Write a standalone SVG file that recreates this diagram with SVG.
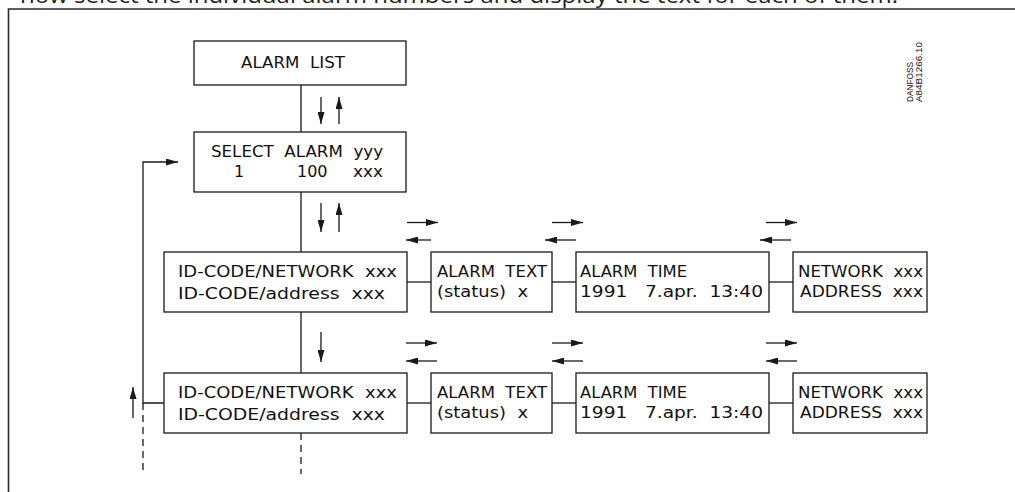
<svg xmlns="http://www.w3.org/2000/svg" width="1015" height="492" viewBox="0 0 1015 492">
<style>
.box{fill:#fff;stroke:#1a1a1a;stroke-width:1.3}
.ln{fill:none;stroke:#1a1a1a;stroke-width:1.3}
.dash{fill:none;stroke:#1a1a1a;stroke-width:1.3;stroke-dasharray:7,5}
.ar{fill:none;stroke:#1a1a1a;stroke-width:1.3;marker-end:url(#ah)}
.t{font-family:"DejaVu Sans","Liberation Sans",sans-serif;font-size:16px;fill:#111;white-space:pre}
.frame{fill:none;stroke:#2a2a2a;stroke-width:1.6}
</style>
<defs>
<marker id="ah" markerUnits="userSpaceOnUse" markerWidth="12" markerHeight="7" refX="12" refY="3.5" orient="auto">
<path d="M0,0 L12,3.5 L0,7 z" fill="#1a1a1a"/>
</marker>
</defs>
<rect width="1015" height="492" fill="#fff"/>
<text x="20" y="3" font-family="'Open Sans',sans-serif" font-size="22" fill="#231f20" textLength="878" lengthAdjust="spacingAndGlyphs">now select the individual alarm numbers and display the text for each of them.</text>
<path class="frame" d="M8.5,492 V9 H1015"/>
<g id="connectors">
<line class="ln" x1="301" y1="85" x2="301" y2="132"/>
<line class="ln" x1="301" y1="192" x2="301" y2="252"/>
<line class="ln" x1="301" y1="312" x2="301" y2="373"/>
<line class="dash" x1="301" y1="433" x2="301" y2="474"/>
<line class="ln" x1="407" y1="282" x2="431" y2="282"/>
<line class="ln" x1="552" y1="282" x2="576" y2="282"/>
<line class="ln" x1="769" y1="282" x2="793" y2="282"/>
<line class="ln" x1="407" y1="403" x2="431" y2="403"/>
<line class="ln" x1="552" y1="403" x2="576" y2="403"/>
<line class="ln" x1="769" y1="403" x2="793" y2="403"/>
<path class="ln" d="M164,403 H143 V162 H178" marker-end="url(#ah)"/>
<line class="dash" x1="143" y1="403" x2="143" y2="474"/>
<line class="ar" x1="321" y1="97" x2="321" y2="124"/>
<line class="ar" x1="339" y1="124" x2="339" y2="97"/>
<line class="ar" x1="321" y1="203" x2="321" y2="232"/>
<line class="ar" x1="339" y1="232" x2="339" y2="203"/>
<line class="ar" x1="321" y1="332" x2="321" y2="362"/>
<line class="ar" x1="133" y1="418" x2="133" y2="387"/>
<line class="ar" x1="407" y1="222.5" x2="438" y2="222.5"/>
<line class="ar" x1="431" y1="240" x2="406" y2="240"/>
<line class="ar" x1="552" y1="222.5" x2="583" y2="222.5"/>
<line class="ar" x1="576" y1="240" x2="545" y2="240"/>
<line class="ar" x1="766" y1="222.5" x2="797" y2="222.5"/>
<line class="ar" x1="791" y1="240" x2="760" y2="240"/>
<line class="ar" x1="406" y1="343" x2="437" y2="343"/>
<line class="ar" x1="437" y1="361" x2="406" y2="361"/>
<line class="ar" x1="552" y1="343" x2="583" y2="343"/>
<line class="ar" x1="583" y1="361" x2="552" y2="361"/>
<line class="ar" x1="766" y1="343" x2="797" y2="343"/>
<line class="ar" x1="797" y1="361" x2="766" y2="361"/>
</g>
<g id="alarm-list">
<rect class="box" x="194" y="41" width="212" height="44"/>
<text class="t" x="241" y="68" textLength="104" lengthAdjust="spacingAndGlyphs">ALARM  LIST</text>
</g>
<g id="select-alarm">
<rect class="box" x="194" y="132" width="212" height="60"/>
<text class="t" x="211" y="157" textLength="172" lengthAdjust="spacingAndGlyphs">SELECT  ALARM  yyy</text>
<text class="t" x="234" y="177">1</text>
<text class="t" x="297" y="177">100</text>
<text class="t" x="353" y="177" textLength="30" lengthAdjust="spacingAndGlyphs">xxx</text>
</g>
<g id="idcode-1">
<rect class="box" x="164" y="252" width="243" height="60"/>
<text class="t" x="178" y="277" textLength="219" lengthAdjust="spacingAndGlyphs">ID-CODE/NETWORK  xxx</text>
<text class="t" x="178" y="299" textLength="207" lengthAdjust="spacingAndGlyphs">ID-CODE/address  xxx</text>
</g>
<g id="alarmtext-1">
<rect class="box" x="431" y="252" width="121" height="60"/>
<text class="t" x="437" y="277" textLength="110" lengthAdjust="spacingAndGlyphs">ALARM  TEXT</text>
<text class="t" x="437" y="297" textLength="91" lengthAdjust="spacingAndGlyphs">(status)  x</text>
</g>
<g id="alarmtime-1">
<rect class="box" x="576" y="252" width="193" height="60"/>
<text class="t" x="580" y="277" textLength="107" lengthAdjust="spacingAndGlyphs">ALARM  TIME</text>
<text class="t" x="580" y="297" textLength="183" lengthAdjust="spacingAndGlyphs">1991   7.apr.  13:40</text>
</g>
<g id="network-1">
<rect class="box" x="793" y="252" width="134" height="60"/>
<text class="t" x="798" y="277" textLength="125" lengthAdjust="spacingAndGlyphs">NETWORK  xxx</text>
<text class="t" x="800" y="297" textLength="123" lengthAdjust="spacingAndGlyphs">ADDRESS  xxx</text>
</g>
<g id="idcode-2">
<rect class="box" x="164" y="373" width="243" height="60"/>
<text class="t" x="178" y="398" textLength="219" lengthAdjust="spacingAndGlyphs">ID-CODE/NETWORK  xxx</text>
<text class="t" x="178" y="420" textLength="207" lengthAdjust="spacingAndGlyphs">ID-CODE/address  xxx</text>
</g>
<g id="alarmtext-2">
<rect class="box" x="431" y="373" width="121" height="60"/>
<text class="t" x="437" y="398" textLength="110" lengthAdjust="spacingAndGlyphs">ALARM  TEXT</text>
<text class="t" x="437" y="418" textLength="91" lengthAdjust="spacingAndGlyphs">(status)  x</text>
</g>
<g id="alarmtime-2">
<rect class="box" x="576" y="373" width="193" height="60"/>
<text class="t" x="580" y="398" textLength="107" lengthAdjust="spacingAndGlyphs">ALARM  TIME</text>
<text class="t" x="580" y="418" textLength="183" lengthAdjust="spacingAndGlyphs">1991   7.apr.  13:40</text>
</g>
<g id="network-2">
<rect class="box" x="793" y="373" width="134" height="60"/>
<text class="t" x="798" y="398" textLength="125" lengthAdjust="spacingAndGlyphs">NETWORK  xxx</text>
<text class="t" x="800" y="418" textLength="123" lengthAdjust="spacingAndGlyphs">ADDRESS  xxx</text>
</g>
<g id="drawing-number" font-family="'Liberation Sans',Arial,sans-serif" font-size="9" fill="#111">
<text transform="translate(913,102) rotate(-90)" textLength="40" lengthAdjust="spacingAndGlyphs">DANFOSS</text>
<text transform="translate(921.5,102) rotate(-90)" textLength="60" lengthAdjust="spacingAndGlyphs">A84B1266.10</text>
</g>
</svg>
